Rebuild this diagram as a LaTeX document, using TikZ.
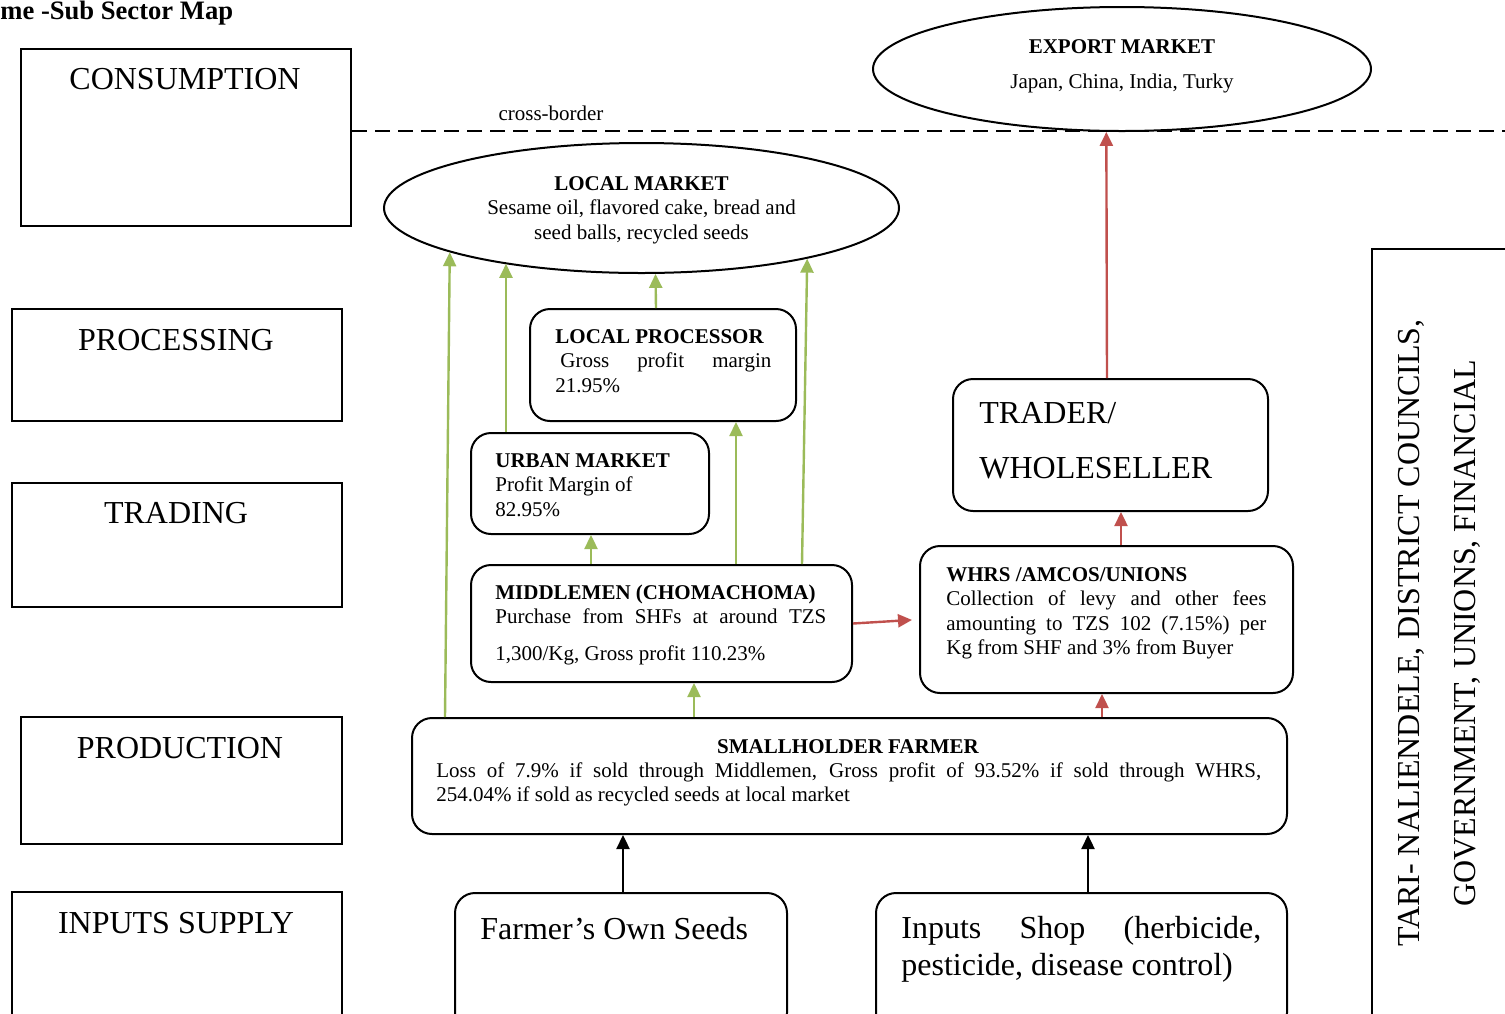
\documentclass[tikz,border=0pt]{standalone}
\usepackage{fontspec}
\setmainfont{Liberation Serif}
\usetikzlibrary{shapes.geometric,arrows.meta}
\definecolor{flowgreen}{RGB}{155,187,89}
\definecolor{flowred}{RGB}{192,80,77}
\tikzset{
  stage/.style={draw, line width=1pt, anchor=north west, inner sep=0pt},
  chainbox/.style={draw, line width=1pt, rounded corners=10pt, anchor=north west, inner sep=0pt},
  market/.style={draw, ellipse, line width=1pt, inner sep=0pt},
  bigtxt/.style={inner sep=0pt, font=\fontsize{16}{19}\selectfont},
  smalltxt/.style={inner sep=0pt, font=\fontsize{10.5}{12.25}\selectfont},
  flow/.style={line width=1.2pt, -{Triangle[length=7pt,width=6.5pt]}},
  greenflow/.style={flow, flowgreen},
  redflow/.style={flow, flowred},
  blackflow/.style={flow, black}
}
\newcommand{\spread}[2]{\makebox[#1][s]{#2}}
\begin{document}
\begin{tikzpicture}[x=0.5pt,y=-0.5pt]
\useasboundingbox (0,0) rectangle (1505,1013);
\clip (0,0) rectangle (1505,1013);

\node[anchor=base west, inner sep=0pt, font=\bfseries\fontsize{13.3}{15}\selectfont] (title) at (0,19) {me -Sub Sector Map};

% stages
\node[stage, minimum width=165pt, minimum height=88.5pt] (cons) at (20,48) {};
\node[stage, minimum width=165pt, minimum height=56pt] (proc) at (11,308) {};
\node[stage, minimum width=165pt, minimum height=62pt] (trad) at (11,482) {};
\node[stage, minimum width=160.5pt, minimum height=63.5pt] (prod) at (20,716) {};
\node[stage, minimum width=165pt, minimum height=70pt] (inp) at (11,891) {};
\node[bigtxt, anchor=base] (conslbl) at (185,89) {CONSUMPTION};
\node[bigtxt, anchor=base] (proclbl) at (176,350) {PROCESSING};
\node[bigtxt, anchor=base] (tradlbl) at (176,523) {TRADING};
\node[bigtxt, anchor=base] (prodlbl) at (180,758) {PRODUCTION};
\node[bigtxt, anchor=base] (inplbl) at (176,933) {INPUTS SUPPLY};

% border line
\coordinate (border) at (1505,131);
\draw[line width=1pt, dash pattern=on 7.5pt off 4pt] (cons.east |- border) -- (border);
\node[smalltxt, anchor=base] (xborder) at (551,120) {cross-border};

% markets
\node[market, minimum width=249pt, minimum height=62pt] (expm) at (1122,69) {};
\node[smalltxt, anchor=base] (expname) at (1122,53) {\bfseries EXPORT MARKET};
\node[smalltxt, anchor=base] (expdest) at (1122,88) {Japan, China, India, Turky};
\node[market, minimum width=257.5pt, minimum height=65pt] (lmkt) at (641.5,208) {};
\node[smalltxt, anchor=base] (lmkttxt) at (641.5,190) {\parbox[t]{170pt}{\centering\bfseries LOCAL MARKET\\ \mdseries Sesame oil, flavored cake, bread and\\ seed balls, recycled seeds}};

% support box
\node[stage, minimum width=90pt, minimum height=400pt] (support) at (1371,248) {};
\node[rotate=90, align=center, inner sep=0pt, font=\fontsize{16}{28}\selectfont] (supporttxt) at (1439,633) {TARI- NALIENDELE, DISTRICT COUNCILS,\\ GOVERNMENT, UNIONS, FINANCIAL};

% chain actors
\node[chainbox, minimum width=133pt, minimum height=56pt] (lproc) at (529,308) {};
\node[smalltxt, anchor=base west] (lproctxt) at (555,343) {\parbox[t]{108pt}{\bfseries LOCAL PROCESSOR\\ \mdseries\hspace*{2.5pt}\spread{105.5pt}{Gross profit margin}\\ 21.95\%}};
\node[chainbox, minimum width=119pt, minimum height=50.5pt] (urban) at (470,432) {};
\node[smalltxt, anchor=base west] (urbantxt) at (495,467) {\parbox[t]{100pt}{\bfseries URBAN MARKET\\ \mdseries Profit Margin of\\ 82.95\%}};
\node[chainbox, minimum width=190.5pt, minimum height=58.5pt] (middle) at (470,564) {};
\node[smalltxt, anchor=base west] (middletxt) at (495,599) {\parbox[t]{165.5pt}{\bfseries MIDDLEMEN (CHOMACHOMA)\\ \mdseries\spread{165.5pt}{Purchase from SHFs at around TZS}\\[6.25pt] 1,300/Kg, Gross profit 110.23\%}};
\node[chainbox, minimum width=186.5pt, minimum height=73.5pt] (whrs) at (919,545) {};
\node[smalltxt, anchor=base west] (whrstxt) at (946,581) {\parbox[t]{160pt}{\bfseries WHRS /AMCOS/UNIONS\\ \mdseries\spread{160pt}{Collection of levy and other fees}\\ \spread{160pt}{amounting to TZS 102 (7.15\%) per}\\ Kg from SHF and 3\% from Buyer}};
\node[chainbox, minimum width=157.5pt, minimum height=66pt] (trader) at (952,378) {};
\node[inner sep=0pt, anchor=base west, font=\fontsize{16}{27.5}\selectfont] (tradertxt) at (979,423) {\parbox[t]{140pt}{TRADER/\\ WHOLESELLER}};
\node[chainbox, minimum width=437.5pt, minimum height=58pt] (farmer) at (411,717) {};
\node[smalltxt, anchor=base] (farmername) at (848,753) {\bfseries SMALLHOLDER FARMER};
\node[smalltxt, anchor=base west] (farmertxt) at (436,777) {\parbox[t]{412.5pt}{\spread{412.5pt}{Loss of 7.9\% if sold through Middlemen, Gross profit of 93.52\% if sold through WHRS,}\\ 254.04\% if sold as recycled seeds at local market}};
\node[chainbox, minimum width=166pt, minimum height=70pt] (seeds) at (454,892) {};
\node[bigtxt, anchor=base west] (seedstxt) at (480,939) {Farmer's Own Seeds};
\node[chainbox, minimum width=205.5pt, minimum height=70pt] (shop) at (875,892) {};
\node[inner sep=0pt, anchor=base west, font=\fontsize{16}{18.5}\selectfont] (shoptxt) at (901,938) {\parbox[t]{180pt}{\spread{180pt}{Inputs Shop (herbicide,}\\ pesticide, disease control)}};

% arrow starts
\coordinate (f1) at ([xshift=17pt]farmer.north west);
\coordinate (f2) at ([xshift=141.5pt]farmer.north west);
\coordinate (f3) at ([xshift=345.5pt]farmer.north west);
\coordinate (u1) at ([xshift=18pt]urban.north west);
\coordinate (p1) at ([xshift=63.5pt]lproc.north west);
\coordinate (m1) at ([xshift=60.5pt]middle.north west);
\coordinate (m2) at ([xshift=133pt]middle.north west);
\coordinate (m3) at ([xshift=166pt]middle.north west);
\coordinate (w1) at ([xshift=101pt]whrs.north west);
\coordinate (t1) at ([xshift=77.5pt]trader.north west);
\coordinate (s1) at ([xshift=84.5pt]seeds.north west);
\coordinate (s2) at ([xshift=106.5pt]shop.north west);

% green flows
\draw[greenflow] (f1) -- (lmkt.193.65);
\draw[greenflow] (u1) -- (u1 |- lmkt.202.2);
\draw[greenflow] (p1) -- (lmkt.282.6);
\draw[greenflow] (m2) -- (m2 |- lproc.south);
\draw[greenflow] (m3) -- (lmkt.343.3);
\draw[greenflow] (m1) -- (m1 |- urban.south);
\draw[greenflow] (f2) -- (f2 |- middle.south);

% red flows
\draw[redflow, shorten >=3.5pt] (middle.east) -- (whrs.west);
\draw[redflow] (f3) -- (f3 |- whrs.south);
\draw[redflow] (w1) -- (w1 |- trader.south);
\draw[redflow] (t1) -- (expm.256.4);

% inputs
\draw[blackflow] (s1) -- (s1 |- farmer.south);
\draw[blackflow] (s2) -- (s2 |- farmer.south);

\end{tikzpicture}
\end{document}
